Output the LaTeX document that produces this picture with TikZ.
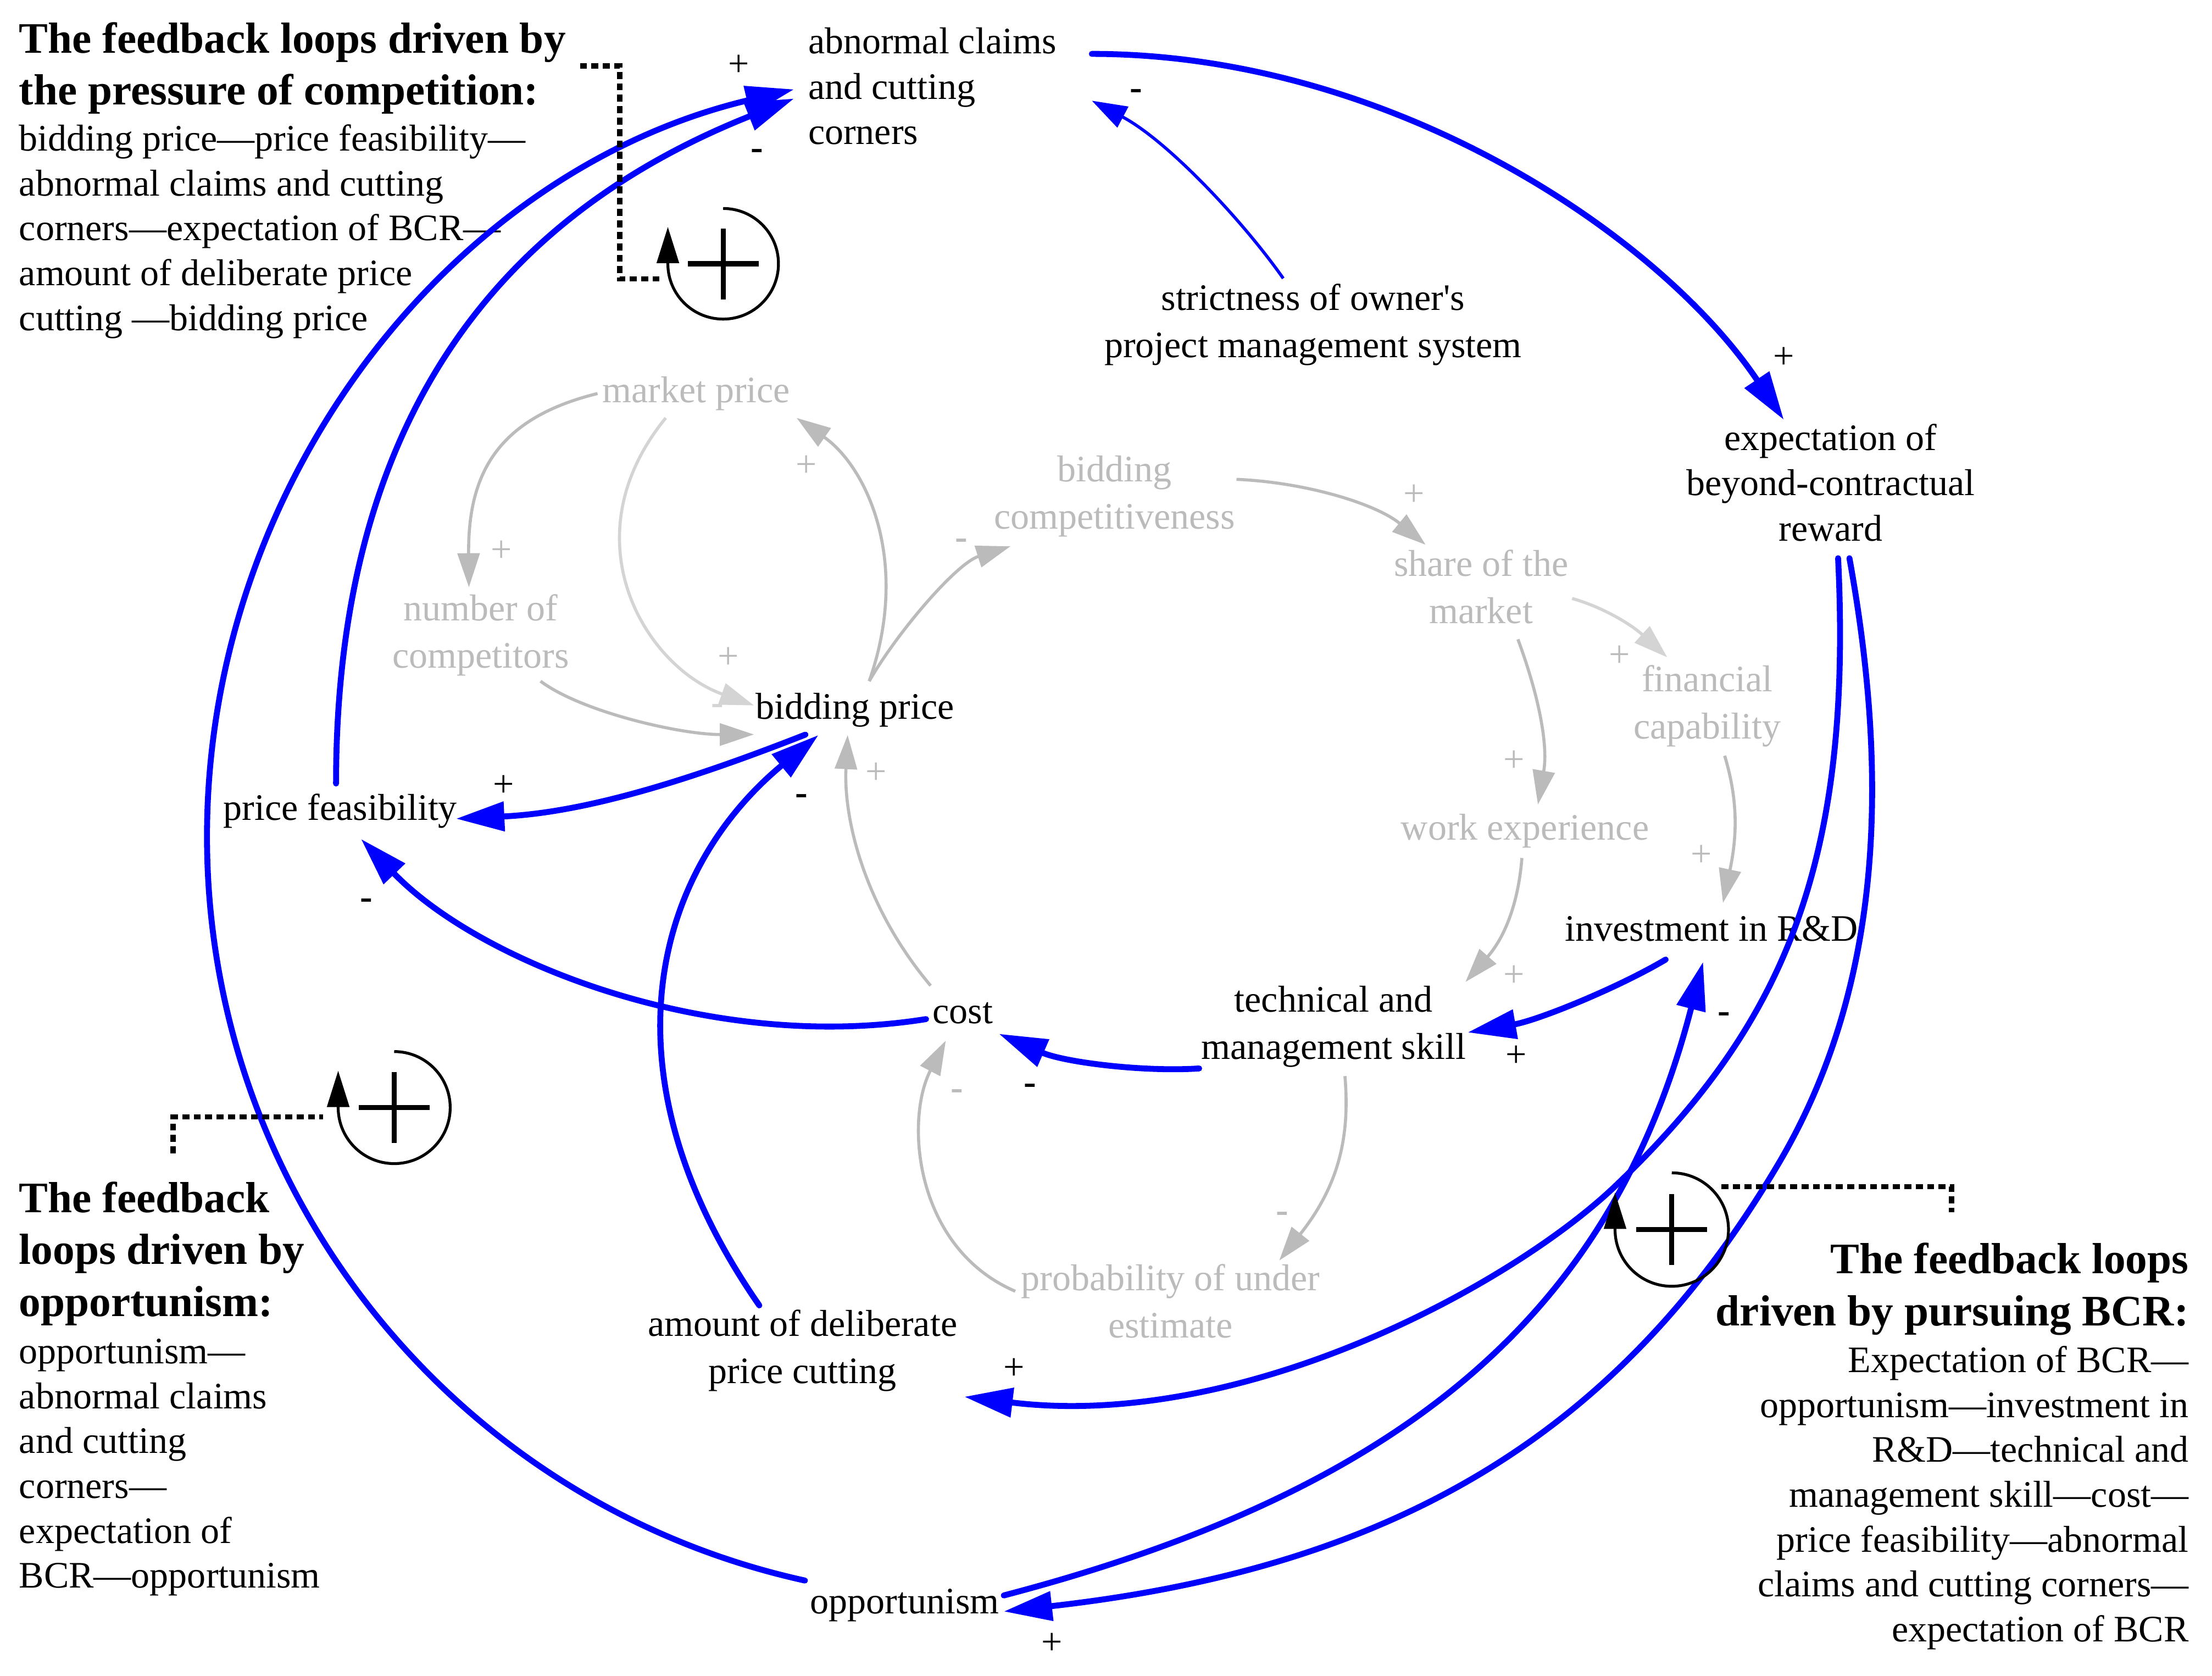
\documentclass[tikz,border=0pt]{standalone}
\usepackage{fontspec}
\setmainfont{Liberation Serif}
\usetikzlibrary{arrows.meta}
\definecolor{cblue}{RGB}{0,0,255}
\definecolor{cgray}{RGB}{187,187,187}
\definecolor{clight}{RGB}{212,212,212}
\tikzset{
  lbl/.style={inner sep=0pt,outer sep=0pt,align=center,font=\fontsize{17}{21.5}\selectfont,execute at begin node=\strut,execute at end node=\strut},
  glbl/.style={lbl,text=cgray},
  sgn/.style={inner sep=0pt,outer sep=0pt,font=\fontsize{17}{21.5}\selectfont,execute at begin node=\strut},
  gsgn/.style={sgn,text=cgray},
  lsgn/.style={sgn,text=clight},
  hd/.style={inner sep=0pt,outer sep=0pt,font=\fontsize{19.8}{23.6}\selectfont\bfseries},
  bd/.style={inner sep=0pt,outer sep=0pt,font=\fontsize{17}{20.4}\selectfont},
  bl/.style={draw=cblue,line width=2.7pt,line cap=round,-{Triangle[length=22pt,width=13pt]}},
  blthin/.style={draw=cblue,line width=1.4pt,-{Triangle[length=16pt,width=10.5pt]}},
  gr/.style={draw=cgray,line width=1.4pt,-{Triangle[length=15.5pt,width=10pt]}},
  grl/.style={gr,draw=clight},
  loopc/.style={draw=black,line width=1.3pt,-{Triangle[length=16.5pt,width=10pt]}},
  lplus/.style={draw=black,line width=2.3pt},
  dots/.style={draw=black,line width=2.4pt,dash pattern=on 3.2pt off 2pt},
}
\begin{document}
\begin{tikzpicture}[x=0.645pt,y=-0.645pt]
\fill[white] (0,0) rectangle (1560,1181.8);
\useasboundingbox (0,0) rectangle (1560,1181.8);

% ---------- variable nodes ----------
\node[lbl,anchor=west,align=left,font=\fontsize{17}{20.6}\selectfont] (abn) at (570,65.5) {abnormal claims\\and cutting\\corners};
\node[lbl] (str) at (926,231) {strictness of owner\XeTeXglyph\XeTeXcharglyph"27 s\\project management system};
\node[lbl,font=\fontsize{17}{20.6}\selectfont] (exp) at (1291,345) {expectation of\\beyond-contractual\\reward};
\node[glbl] (mkt) at (491,277) {market price};
\node[glbl] (cmp) at (786,352) {bidding\\competitiveness};
\node[glbl] (shr) at (1044.5,418.5) {share of the\\market};
\node[glbl] (num) at (339,450) {number of\\competitors};
\node[lbl] (bid) at (603,500.5) {bidding price};
\node[glbl] (fin) at (1204,500) {financial\\capability};
\node[lbl] (pf) at (240,571.5) {price feasibility};
\node[glbl] (wrk) at (1075.5,585.5) {work experience};
\node[lbl] (rd) at (1207,657) {investment in R\&D};
\node[lbl] (tms) at (940.5,726) {technical and\\management skill};
\node[lbl] (cst) at (679,715) {cost};
\node[glbl] (pro) at (825.5,922.5) {probability of under\\estimate};
\node[lbl] (amt) at (566,954.5) {amount of deliberate\\price cutting};
\node[lbl] (opp) at (638,1131) {opportunism};

% ---------- descriptions ----------
\node[hd,align=left,anchor=north west] (d1h) at (13.5,11.6) {\strut The feedback loops driven by\\the pressure of competition:};
\node[bd,align=left,anchor=north west] (d1) at (13.5,84.3) {\strut bidding price—price feasibility—\\abnormal claims and cutting\\corners—expectation of BCR—\\amount of deliberate price\\cutting —bidding price};
\node[hd,align=left,anchor=north west] (d2h) at (13.5,829.3) {\strut The feedback\\loops driven by\\opportunism:};
\node[bd,align=left,anchor=north west] (d2) at (13.5,939.4) {\strut opportunism—\\abnormal claims\\and cutting\\corners—\\expectation of\\BCR—opportunism};
\node[hd,align=right,anchor=north east] (d3h) at (1543.5,872.5) {\strut The feedback loops\\driven by pursuing BCR:};
\node[bd,align=right,anchor=north east] (d3) at (1543.5,945.6) {\strut Expectation of BCR—\\opportunism—investment in\\R\&D—technical and\\management skill—cost—\\price feasibility—abnormal\\claims and cutting corners—\\expectation of BCR};

% ---------- grey links ----------
\draw[gr] ([shift={(-69.6,0.5)}]mkt.center) .. controls (350,295) and (330,335) .. ([shift={(-8.3,-35.9)}]num.center);
\draw[grl] ([shift={(-21.5,17.7)}]mkt.center) .. controls (400,380) and (455,470) .. ([shift={(-71.3,-3.1)}]bid.center);
\draw[gr] ([shift={(42.2,30.3)}]num.center) .. controls (410,502) and (480,518) .. ([shift={(-71.3,17.4)}]bid.center);
\draw[gr] ([shift={(10,-20.2)}]bid.center) .. controls (642.7,395.7) and (611,329) .. ([shift={(70.8,17.7)}]mkt.center);
\draw[gr] ([shift={(10,-20.2)}]bid.center) .. controls (633,445.5) and (674.6,397.2) .. ([shift={(-73.4,33.2)}]cmp.center);
\draw[gr] ([shift={(86,-14)}]cmp.center) .. controls (920,340) and (970,355) .. ([shift={(-39.1,-34.4)}]shr.center);
\draw[grl] ([shift={(64.2,3.5)}]shr.center) .. controls (1130,428) and (1150,440) .. ([shift={(-28.2,-36.5)}]fin.center);
\draw[gr] ([shift={(26,32.3)}]shr.center) .. controls (1085,490) and (1092,525) .. ([shift={(9.1,-18.2)}]wrk.center);
\draw[gr] ([shift={(12.3,32.9)}]fin.center) .. controls (1226,565) and (1225,590) .. ([shift={(8.1,-20.3)}]rd.center);
\draw[gr] ([shift={(-2.2,19.5)}]wrk.center) .. controls (1071,635) and (1062,660) .. ([shift={(93,-33.6)}]tms.center);
\draw[gr] ([shift={(8,32.8)}]tms.center) .. controls (952,800) and (945,835) .. ([shift={(76.7,-33.7)}]pro.center);
\draw[gr] ([shift={(-109.5,-12)}]pro.center) .. controls (645,880) and (638,790) .. ([shift={(-12,18.8)}]cst.center);
\draw[gr] ([shift={(-22.7,-20)}]cst.center) .. controls (610,640) and (594.8,578) .. ([shift={(-5.2,17.8)}]bid.center);

% ---------- blue links ----------
\draw[bl] ([shift={(200,-27.5)}]abn.west) .. controls (980,38) and (1170,165) .. ([shift={(-33,-49)}]exp.center);
\draw[blthin] ([shift={(-21,-34.7)}]str.center) .. controls (876,155) and (823,99) .. ([shift={(200,5.5)}]abn.west);
\draw[bl] ([shift={(-3,-19)}]pf.center) .. controls (237,272) and (374,143.5) .. ([shift={(-10,4)}]abn.west);
\draw[bl] ([shift={(-70.3,-16.5)}]opp.center) .. controls (322.8,1060.7) and (147.7,844.4) .. (146,593.7) .. controls (144.2,343) and (316,121) .. ([shift={(-10,-2.5)}]abn.west);
\draw[bl] ([shift={(-35,17.5)}]bid.center) .. controls (484,551) and (412,573) .. ([shift={(81.6,5.8)}]pf.center);
\draw[bl] ([shift={(-30.5,-34)}]amt.center) .. controls (421.5,756.5) and (461.5,614) .. ([shift={(-25.8,17.8)}]bid.center);
\draw[bl] ([shift={(-25.9,3.6)}]cst.center) .. controls (500,743) and (337.4,678) .. ([shift={(14.6,20.1)}]pf.center);
\draw[bl] ([shift={(-94.8,27.4)}]tms.center) .. controls (806,756) and (750.5,749) .. ([shift={(25.5,14)}]cst.center);
\draw[bl] ([shift={(-32.3,19.6)}]rd.center) .. controls (1140.3,697) and (1084.4,719.5) .. ([shift={(94.6,2)}]tms.center);
\draw[bl] ([shift={(69.9,-6)}]opp.center) .. controls (998,1049) and (1138.5,920.5) .. ([shift={(-5.9,21.2)}]rd.center);
\draw[bl] ([shift={(5.3,48.6)}]exp.center) .. controls (1307,614) and (1254.7,725.6) .. (1139.5,836) .. controls (1067.5,905) and (878,1009) .. ([shift={(114.1,30.4)}]amt.center);
\draw[bl] ([shift={(13.3,48.6)}]exp.center) .. controls (1331,541) and (1330.5,692) .. (1254,821) .. controls (1141.8,1010.2) and (985.2,1105.2) .. ([shift={(69.9,5.3)}]opp.center);

% ---------- polarity signs ----------
\node[sgn] (s1) at (521,47) {+};
\node[sgn] (s2) at (534,106) {\textbf{-}};
\node[sgn] (s3) at (801.3,63.7) {\textbf{-}};
\node[sgn] (s4) at (1258,253.3) {+};
\node[sgn] (s5) at (565.3,560.7) {\textbf{-}};
\node[sgn] (s6) at (355.3,554.9) {+};
\node[sgn] (s7) at (258.3,634.4) {\textbf{-}};
\node[sgn] (s8) at (726.3,765.1) {\textbf{-}};
\node[sgn] (s9) at (1069.3,745.8) {+};
\node[sgn] (s10) at (1216,714.7) {\textbf{-}};
\node[sgn] (s11) at (715.3,966.2) {+};
\node[sgn] (s12) at (742,1160) {+};
\node[gsgn] (g1) at (353.5,389.4) {+};
\node[gsgn] (g2) at (568.7,329.3) {+};
\node[gsgn] (g3) at (678,380.7) {\textbf{-}};
\node[gsgn] (g4) at (513.7,464.7) {+};
\node[lsgn] (g5) at (505.8,497.4) {\textbf{-}};
\node[gsgn] (g6) at (617.9,546) {+};
\node[gsgn] (g7) at (997.4,350) {+};
\node[gsgn] (g8) at (1142,463.5) {+};
\node[gsgn] (g9) at (1067.7,537.7) {+};
\node[gsgn] (g10) at (1199.9,604.1) {+};
\node[gsgn] (g11) at (1067.7,688.9) {+};
\node[gsgn] (g12) at (674.9,768.9) {\textbf{-}};
\node[gsgn] (g13) at (904.2,855.3) {\textbf{-}};

% ---------- loop markers ----------
\coordinate (L1) at (510,186);
\coordinate (L2) at (278,781);
\coordinate (L3) at (1179,867);
\draw[loopc] ([shift={(0,-39)}]L1) arc[start angle=-90,end angle=180,radius=39] -- ++(0,-26);
\draw[lplus] ([shift={(-25,0)}]L1) -- ([shift={(25,0)}]L1);
\draw[lplus] ([shift={(0,-25)}]L1) -- ([shift={(0,25)}]L1);
\draw[loopc] ([shift={(0,-39.5)}]L2) arc[start angle=-90,end angle=180,radius=39.5] -- ++(0,-26);
\draw[lplus] ([shift={(-25,0)}]L2) -- ([shift={(25,0)}]L2);
\draw[lplus] ([shift={(0,-25)}]L2) -- ([shift={(0,25)}]L2);
\draw[loopc] ([shift={(0,-40)}]L3) arc[start angle=-90,end angle=180,radius=40] -- ++(0,-26);
\draw[lplus] ([shift={(-25,0)}]L3) -- ([shift={(25,0)}]L3);
\draw[lplus] ([shift={(0,-25)}]L3) -- ([shift={(0,25)}]L3);

\draw[dots] (409,46.4) -- (437,46.4) -- (437,196.7) -- (465,196.7);
\draw[dots] (122,813.3) -- (122,787.6) -- (228,787.6);
\draw[dots] (1214,836.8) -- (1376.4,836.8) -- (1376.4,854.6);
\end{tikzpicture}
\end{document}
